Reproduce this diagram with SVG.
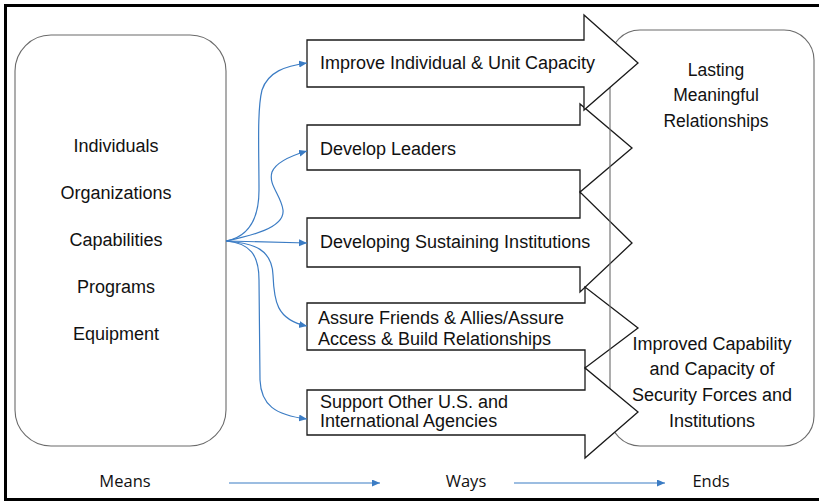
<svg xmlns="http://www.w3.org/2000/svg" width="819" height="501" viewBox="0 0 819 501">
<style>
.frame{fill:none;stroke:#000;stroke-width:3}
.box{fill:none;stroke:#6b6b6b;stroke-width:1.1}
.arr{fill:#fff;stroke:#1a1a1a;stroke-width:1.3;stroke-linejoin:miter}
.t{font-family:"Liberation Sans",Arial,sans-serif;font-size:18px;fill:#111}
.ts{font-family:"Liberation Sans",Arial,sans-serif;font-size:17.5px;fill:#111}
.tb{font-family:"Open Sans","Liberation Sans",sans-serif;font-size:16.5px;fill:#111}
.c{fill:none;stroke:#3b7cc4;stroke-width:1.2}
.mid{text-anchor:middle}
</style>
<defs>
<marker id="ah" markerUnits="userSpaceOnUse" markerWidth="9" markerHeight="8" refX="8" refY="3.5" orient="auto">
<path d="M0,0 L8,3.5 L0,7 z" fill="#3b7cc4"/>
</marker>
</defs>
<rect width="819" height="501" fill="#fff"/>
<rect class="frame" x="5.5" y="5.5" width="900" height="494"/>

<g id="means">
<rect class="box" x="15" y="35" width="211" height="411" rx="36" ry="36"/>
<text class="t mid" x="116" y="152">Individuals</text>
<text class="t mid" x="116" y="199">Organizations</text>
<text class="t mid" x="116" y="246">Capabilities</text>
<text class="t mid" x="116" y="293">Programs</text>
<text class="t mid" x="116" y="340">Equipment</text>
</g>

<g id="way2">
<polygon class="arr" points="307,125 580,125 580,104 632,148 580,192 580,170 307,170"/>
<text class="t" x="320" y="155">Develop Leaders</text>
</g>
<g id="way3">
<polygon class="arr" points="307,218 580,218 580,192 632,243 580,292 580,267 307,267"/>
<text class="t" x="320" y="248">Developing Sustaining Institutions</text>
</g>
<g id="way4">
<polygon class="arr" points="307,303 585,303 585,287 638,328 585,368 585,350 307,350"/>
<text class="t" x="318" y="324">Assure Friends &amp; Allies/Assure</text>
<text class="t" x="318" y="345">Access &amp; Build Relationships</text>
</g>

<g id="ends">
<rect class="box" x="610" y="30" width="204" height="416" rx="30" ry="30"/>
<text class="ts mid" x="716" y="76">Lasting</text>
<text class="ts mid" x="716" y="101">Meaningful</text>
<text class="ts mid" x="716" y="127">Relationships</text>
<text class="t mid" x="712" y="350">Improved Capability</text>
<text class="t mid" x="712" y="375">and Capacity of</text>
<text class="t mid" x="712" y="401">Security Forces and</text>
<text class="t mid" x="712" y="427">Institutions</text>
</g>

<g id="way1">
<polygon class="arr" points="307,40 584,40 584,15 638,63 584,110 584,87 307,87"/>
<text class="t" x="320" y="69">Improve Individual &amp; Unit Capacity</text>
</g>
<g id="way5">
<polygon class="arr" points="307,390 585,390 585,368 638,412 585,458 585,435 307,435"/>
<text class="t" x="320" y="408">Support Other U.S. and</text>
<text class="t" x="320" y="427">International Agencies</text>
</g>

<g id="connectors">
<path class="c" marker-end="url(#ah)" d="M226,241 C252,236 259,215 259,190 C259,150 257,110 262,90 C268,72 285,66 307,63"/>
<path class="c" marker-end="url(#ah)" d="M226,241 C250,236 285,228 283,210 C281,195 268,185 272,172 C276,162 290,156 307,151"/>
<path class="c" marker-end="url(#ah)" d="M226,241 L307,243"/>
<path class="c" marker-end="url(#ah)" d="M226,241 C255,243 272,250 273,275 C274,300 276,320 307,326"/>
<path class="c" marker-end="url(#ah)" d="M226,241 C250,243 259,255 259,280 L260,380 C261,405 275,415 307,419"/>
<path class="c" marker-end="url(#ah)" d="M229,483 L380,483"/>
<path class="c" marker-end="url(#ah)" d="M514,483 L665,483"/>
</g>

<g id="labels">
<text class="tb mid" x="125" y="487">Means</text>
<text class="tb mid" x="466" y="487">Ways</text>
<text class="tb mid" x="711" y="487">Ends</text>
</g>
</svg>
